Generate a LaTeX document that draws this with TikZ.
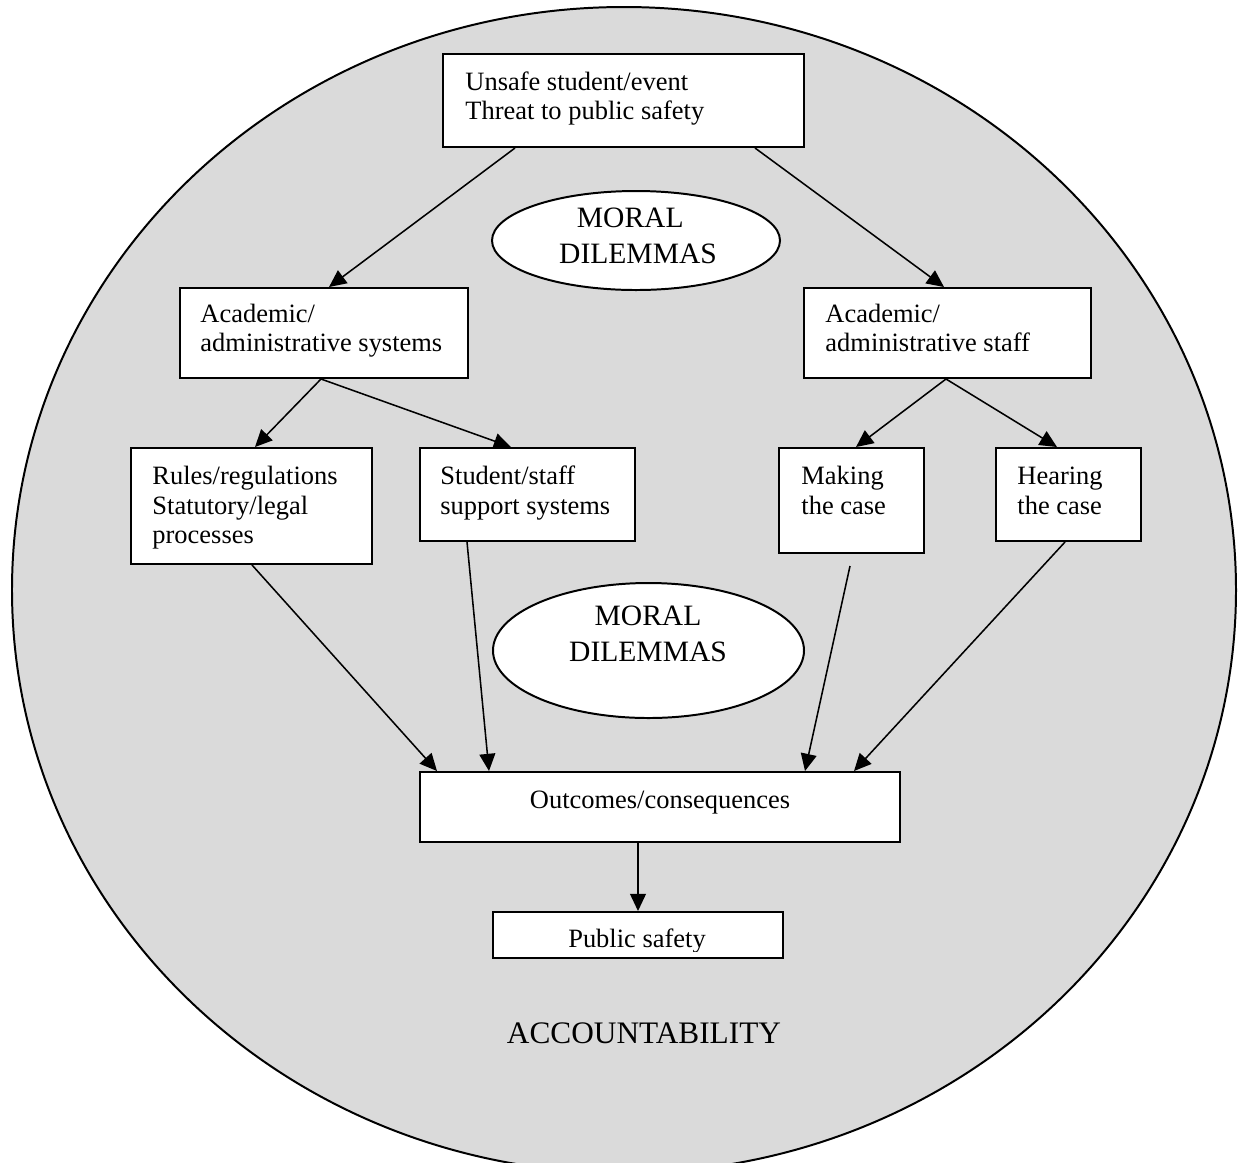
\documentclass[tikz,border=0pt]{standalone}
\usepackage{fontspec}
\setmainfont{Liberation Serif}
\usetikzlibrary{arrows.meta,calc,shapes.geometric}
\newlength{\pxu}\setlength{\pxu}{0.4535pt}
\definecolor{bggray}{RGB}{218,218,218}
\newcommand{\mylines}[1]{\begin{tabular}[t]{@{}l@{}}#1\end{tabular}}
\newcommand{\mycentre}[1]{\begin{tabular}[t]{@{}c@{}}#1\end{tabular}}
\begin{document}
\begin{tikzpicture}[x=0.4535pt,y=-0.4535pt,
  box/.style={draw=black,fill=white,line width=0.9pt,rectangle,inner sep=0pt},
  oval/.style={draw=black,fill=white,line width=0.9pt,ellipse,inner sep=0pt},
  txt/.style={inner sep=0pt,font=\fontsize{12}{13.6}\selectfont},
  bigtxt/.style={inner sep=0pt,font=\fontsize{13.4}{16.5}\selectfont},
  conn/.style={line width=0.7pt,-{Triangle[length=7.8pt,width=7.2pt]}}]
\useasboundingbox (0,0) rectangle (1241,1162);
\clip (0,0) rectangle (1241,1162);
% background
\node[ellipse,draw=black,fill=bggray,line width=0.9pt,inner sep=0pt,
  minimum width=1224\pxu,minimum height=1166\pxu] (bg) at (624,590) {};
% boxes
\node[box,minimum width=361\pxu,minimum height=93\pxu] (top) at (623.5,100.5) {};
\node[box,minimum width=288\pxu,minimum height=90\pxu] (asys) at (324,333) {};
\node[box,minimum width=287\pxu,minimum height=90\pxu] (astaff) at (947.5,333) {};
\node[box,minimum width=241\pxu,minimum height=116\pxu] (rules) at (251.5,506) {};
\node[box,minimum width=215\pxu,minimum height=93\pxu] (supp) at (527.5,494.5) {};
\node[box,minimum width=145\pxu,minimum height=105\pxu] (make) at (851.5,500.5) {};
\node[box,minimum width=145\pxu,minimum height=93\pxu] (hear) at (1068.5,494.5) {};
\node[box,minimum width=480\pxu,minimum height=70\pxu] (out) at (660,807) {};
\node[box,minimum width=290\pxu,minimum height=46\pxu] (pub) at (638,935) {};
% ellipses
\node[oval,minimum width=288\pxu,minimum height=99\pxu] (m1) at (636,240.5) {};
\node[oval,minimum width=311\pxu,minimum height=135\pxu] (m2) at (648.5,650.5) {};
% texts
\node[txt,anchor=base west] (topt) at (465,90) {\mylines{Unsafe student/event\\Threat to public safety}};
\node[txt,anchor=base west] (asyst) at (200,322) {\mylines{Academic/\\administrative systems}};
\node[txt,anchor=base west] (astafft) at (825,322) {\mylines{Academic/\\administrative staff}};
\node[txt,anchor=base west] (rulest) at (152,484) {\mylines{Rules/regulations\\Statutory/legal\\processes}};
\node[txt,anchor=base west] (suppt) at (440,484) {\mylines{Student/staff\\support systems}};
\node[txt,anchor=base west] (maket) at (801,484) {\mylines{Making\\the case}};
\node[txt,anchor=base west] (heart) at (1017,484) {\mylines{Hearing\\the case}};
\node[txt,anchor=base] (outt) at (660,808) {Outcomes/consequences};
\begin{scope}
  \clip (pub.north west) rectangle ($(pub.south east)+(0,-8)$);
  \node[txt,anchor=base] (pubt) at (637,947) {Public safety};
\end{scope}
\node[bigtxt,anchor=base] (m1t) at (638,227) {\mycentre{MORAL\hspace*{7pt}\\DILEMMAS}};
\node[bigtxt,anchor=base] (m2t) at (648,625) {\mycentre{MORAL\\DILEMMAS}};
\node[inner sep=0pt,font=\fontsize{14.2}{17}\selectfont,anchor=base] (acc) at (644,1043) {ACCOUNTABILITY};
% connectors
\draw[conn] ($(top.south west)+(73,0)$) -- ($(asys.north west)+(150,0)$);
\draw[conn] ($(top.south west)+(313,0)$) -- ($(astaff.north west)+(141,0)$);
\draw[conn] ($(asys.south west)+(142,0)$) -- ($(rules.north west)+(125,0)$);
\draw[conn] ($(asys.south west)+(142,0)$) -- ($(supp.north west)+(92,0)$);
\draw[conn] ($(astaff.south west)+(143,0)$) -- ($(make.north west)+(78,0)$);
\draw[conn] ($(astaff.south west)+(143,0)$) -- ($(hear.north west)+(62,0)$);
\draw[conn] ($(rules.south west)+(122,0)$) -- ($(out.north west)+(18,0)$);
\draw[conn] ($(supp.south west)+(48,0)$) -- ($(out.north west)+(70,0)$);
\draw[conn] ($(make.south west)+(72,12)$) -- ($(out.north west)+(386,0)$);
\draw[conn] ($(hear.south west)+(70,0)$) -- ($(out.north west)+(435,0)$);
\draw[conn] (pub.north |- out.south) -- (pub.north);
\end{tikzpicture}
\end{document}
